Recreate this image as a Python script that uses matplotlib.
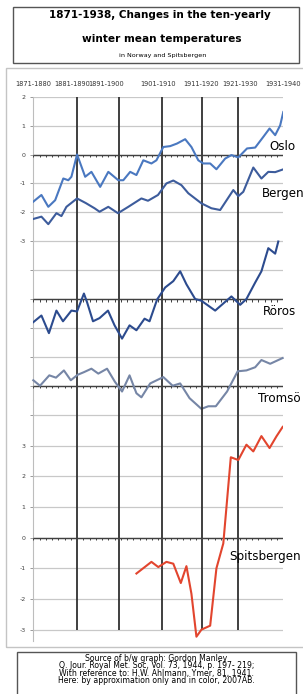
import numpy as np
import matplotlib.pyplot as plt
from matplotlib.patches import Rectangle

# decade headings along the top
decades = ['1871-1880', '1881-1890', '1891-1900', '1901-1910',
           '1911-1920', '1921-1930', '1931-1940']
decade_pos = [0, 6.3, 11.6, 19.9, 26.8, 33.1, 40]
decade_lines = [7.0, 13.75, 20.65, 27.0, 32.75]

# series (x = tick index 0..40, y = deg C on own axis)
oslo_x = [0, 1.3, 2.4, 3.5, 4.8, 5.6, 6.1, 7.0, 8.3, 9.3, 10.7, 12.0, 13.6, 14.4,
          15.5, 16.5, 17.6, 18.9, 19.7, 20.8, 21.9, 23.0, 24.3, 25.3, 26.4, 27.2,
          28.3, 29.3, 30.7, 31.7, 32.8, 34.2, 35.5, 36.8, 37.8, 38.7, 39.5, 40]
oslo_y = [-1.63, -1.40, -1.81, -1.58, -0.83, -0.89, -0.77, 0.0, -0.77, -0.60,
          -1.12, -0.60, -0.89, -0.89, -0.60, -0.71, -0.20, -0.31, -0.20, 0.26,
          0.29, 0.38, 0.53, 0.26, -0.20, -0.31, -0.31, -0.51, -0.14, -0.02,
          -0.10, 0.21, 0.24, 0.61, 0.90, 0.67, 1.01, 1.47]

bergen_x = [0, 1.3, 2.4, 3.7, 4.5, 5.3, 7.0, 8.4, 9.8, 10.6, 12.0, 13.55, 15.2,
            17.3, 18.35, 19.95, 21.3, 22.4, 23.7, 24.8, 26.9, 28.5, 29.9, 32.0,
            32.8, 33.6, 35.2, 36.5, 37.6, 38.7, 39.9]
bergen_y = [-2.23, -2.15, -2.41, -2.03, -2.13, -1.81, -1.52, -1.68, -1.86, -1.98,
            -1.81, -2.03, -1.81, -1.52, -1.60, -1.40, -1.00, -0.90, -1.06, -1.34,
            -1.69, -1.86, -1.92, -1.23, -1.44, -1.29, -0.45, -0.83, -0.60, -0.61,
            -0.52]

roros_x = [0, 1.3, 2.5, 3.7, 4.75, 6.1, 7.0, 8.1, 8.6, 9.55, 10.6, 11.95, 13.0,
           14.2, 15.4, 16.5, 17.8, 18.6, 19.8, 21.1, 22.4, 23.5, 24.5, 25.9, 26.9,
           29.1, 30.9, 31.7, 33.1, 34.1, 35.5, 36.5, 37.6, 38.7, 39.2]
roros_y = [-0.80, -0.57, -1.18, -0.40, -0.77, -0.40, -0.43, 0.19, -0.11, -0.77,
           -0.66, -0.40, -0.91, -1.37, -0.91, -1.08, -0.68, -0.77, -0.02, 0.40,
           0.62, 0.96, 0.51, 0.00, -0.06, -0.40, -0.06, 0.09, -0.20, 0.00, 0.57,
           0.96, 1.76, 1.57, 1.99]

tromso_x = [0, 1.07, 2.56, 3.63, 4.9, 6.0, 7.1, 8.1, 9.3, 10.4, 11.8, 13.05, 14.2,
            15.4, 16.5, 17.3, 18.7, 20.8, 22.3, 23.5, 25.0, 26.9, 28.0, 29.2, 31.0,
            32.7, 34.1, 35.5, 36.5, 37.9, 39.9]
tromso_y = [0.19, 0.00, 0.36, 0.28, 0.53, 0.19, 0.38, 0.47, 0.59, 0.42, 0.59,
            0.14, -0.20, 0.36, -0.26, -0.40, 0.08, 0.30, 0.00, 0.08, -0.43, -0.80,
            -0.71, -0.71, -0.20, 0.50, 0.53, 0.64, 0.89, 0.76, 0.96]

spits_x = [16.5, 18.9, 20.0, 21.3, 22.4, 23.6, 24.5, 25.3, 26.1, 26.9, 28.3, 29.3,
           30.4, 31.6, 32.8, 34.1, 35.2, 36.5, 37.8, 38.9, 39.9]
spits_y = [-1.17, -0.79, -0.96, -0.79, -0.85, -1.48, -0.93, -1.83, -3.23, -3.0,
           -2.87, -1.0, -0.19, 2.62, 2.53, 3.03, 2.81, 3.31, 2.92, 3.30, 3.61]

W, H = 303, 694
fig = plt.figure(figsize=(W / 100, H / 100), dpi=100)

# frames round the title, the chart and the source note
fig.add_artist(Rectangle((13 / W, 1 - 63 / H), 286 / W, 56 / H, transform=fig.transFigure,
                         fill=False, ec='#555555', lw=1.0))
fig.add_artist(Rectangle((6 / W, 1 - 647 / H), 310 / W, 579 / H, transform=fig.transFigure,
                         fill=False, ec='#c4c4c4', lw=1.0))
fig.add_artist(Rectangle((17 / W, 1 - 705 / H), 279 / W, 53 / H, transform=fig.transFigure,
                         fill=False, ec='#555555', lw=1.0))

fig.text(0.527, 1 - 15.5 / H, '1871-1938, Changes in the ten-yearly', ha='center',
         va='center', fontsize=7.5, weight='bold')
fig.text(0.534, 1 - 38.5 / H, 'winter mean temperatures', ha='center', va='center',
         fontsize=7.6, weight='bold')
fig.text(0.537, 1 - 55 / H, 'in Norway and Spitsbergen', ha='center', va='center',
         fontsize=4.6)

note = ['Source of b/w graph: Gordon Manley',
        'Q. Jour. Royal Met. Soc, Vol. 73, 1944, p. 197- 219;',
        'With reference to: H.W. Ahlmann, Ymer, 81, 1941.',
        'Here: by approximation only and in color, 2007AB.']
fig.text(0.5165, 1 - 669.3 / H, '\n'.join(note), ha='center', va='center',
         multialignment='center', fontsize=5.6, linespacing=0.78)

# two stacked axes: Norway stations on top, Spitsbergen below
left, width = 33.3 / W, 250 / W
ax = fig.add_axes([left, 1 - 400.2 / H, width, (400.2 - 96.7) / H])
ax2 = fig.add_axes([left, 1 - 641 / H, width, (641 - 400.2) / H])
ax.set_ylim(-8.5, 2)
ax2.set_ylim(-3.37, 4.48)

grid_c = '#c8c8c8'
for a, levels, axes0, lo, hi in [(ax, np.arange(2, -9, -1), [0, -5, -8], -8.5, 2),
                                 (ax2, np.arange(4, -4, -1), [0], -3, 4.48)]:
    a.set_xlim(0, 40)
    a.patch.set_alpha(0)
    for s in ['top', 'right', 'bottom']:
        a.spines[s].set_visible(False)
    a.spines['left'].set_color('#bdbdbd')
    a.set_xticks([])
    a.hlines(levels, 0, 40, color=grid_c, lw=0.9, zorder=1)
    a.vlines(decade_lines, lo, hi, color='#303030', lw=1.3, zorder=2)
    for lv in axes0:
        a.hlines(lv, 0, 40, color='#404040', lw=1.0, zorder=3)
        a.vlines(np.arange(41), lv - 0.09, lv, color='#404040', lw=0.7, zorder=3)
    a.tick_params(axis='y', length=2.5, width=0.7, color='#9a9a9a', labelsize=4.5,
                  labelcolor='#404040', pad=3)

ax.set_yticks(np.arange(2, -9, -1))
ax.set_yticklabels(['2', '1', '0', '-1', '-2', '-3', '', '', '', '', ''])
ax2.set_yticks(np.arange(4, -4, -1))
ax2.set_yticklabels(['', '3', '2', '1', '0', '-1', '-2', '-3'])

for x, lab in zip(decade_pos, decades):
    ax.text(x, 2.44, lab, ha='center', va='center', fontsize=4.8, color='#333333',
            clip_on=False)

lw = 1.5
ax.plot(oslo_x, oslo_y, color='#4a78c0', lw=lw, zorder=4, solid_joinstyle='round')
ax.plot(bergen_x, bergen_y, color='#3d5c9c', lw=lw, zorder=4, solid_joinstyle='round')
ax.plot(roros_x, np.array(roros_y) - 5, color='#2c4b8e', lw=lw, zorder=4,
        solid_joinstyle='round')
ax.plot(tromso_x, np.array(tromso_y) - 8, color='#7686a6', lw=lw, zorder=4,
        solid_joinstyle='round', clip_on=False)
ax2.plot(spits_x, spits_y, color='#e2452e', lw=lw, zorder=4, solid_joinstyle='round')

lab_kw = dict(ha='left', va='center', fontsize=8.6, clip_on=False, zorder=5)
ax.text(37.7, 0.27, 'Oslo', **lab_kw)
ax.text(36.6, -1.34, 'Bergen', **lab_kw)
ax.text(36.75, -5.44, 'Röros', **lab_kw)
ax.text(35.95, -8.44, 'Tromsö', **lab_kw)
ax2.text(31.3, -0.63, 'Spitsbergen', **lab_kw)

fig.savefig('out.png', dpi=100)
